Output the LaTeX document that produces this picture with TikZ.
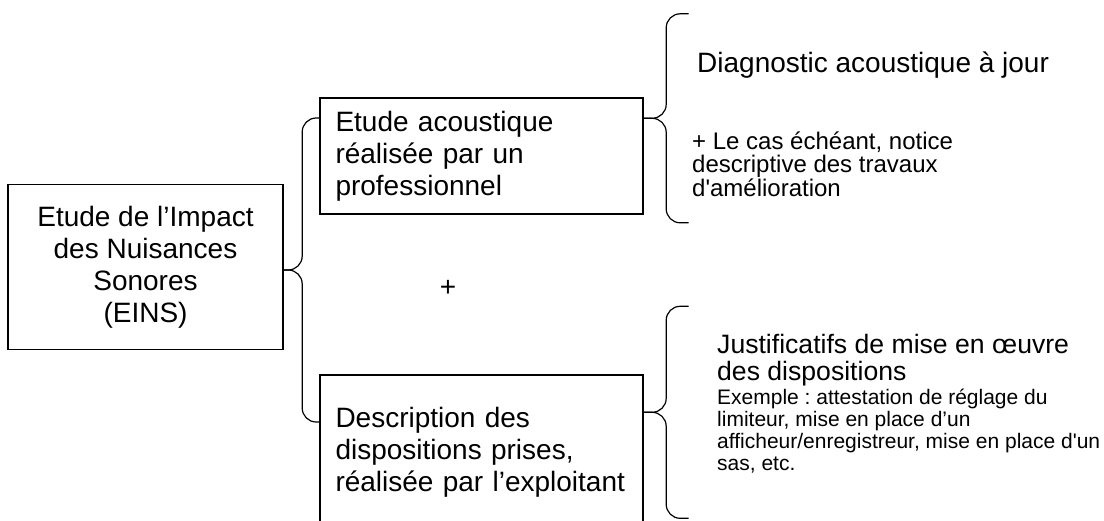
\documentclass[tikz,border=0pt]{standalone}
\usepackage{fontspec}
\setmainfont{Liberation Sans}
\usepackage{tikz}
\usetikzlibrary{positioning}
\usetikzlibrary{calc}
\frenchspacing

% accolade ouverte vers la droite : pointe, demi-hauteur, largeur
\newcommand{\accolade}[3]{%
  \draw[brace] (#1) -| ($(#1)+(#3/2,-#2)$) -- ++(#3/2,0);
  \draw[brace] (#1) -| ($(#1)+(#3/2,#2)$) -- ++(#3/2,0);}

\begin{document}
\begin{tikzpicture}[x=1pt, y=-1pt,
    box/.style={draw, line width=1.4pt, inner sep=0pt,
      font=\fontsize{28}{32}\selectfont},
    brace/.style={line width=1.2pt, rounded corners=14pt},
    big/.style={inner sep=0pt, font=\fontsize{28}{32}\selectfont},
    small/.style={inner sep=0pt, align=left}]

  \useasboundingbox (0,0) rectangle (1104,520);
  \clip (0,0) rectangle (1104,520);

  \node[box, minimum width=275pt, minimum height=165pt, align=center]
    (eins) at (145.5,267) {Etude de l’Impact\\des Nuisances\\Sonores\\(EINS)};
  \node[box, minimum width=323pt, minimum height=116pt, align=left,
    text width=292pt] (etude) at (481.5,156)
    {Etude acoustique\\réalisée par un\\professionnel};
  \node[box, minimum width=323pt, minimum height=154pt, align=left,
    text width=292pt] (descr) at (481.5,452)
    {Description des\\dispositions prises,\\réalisée par l’exploitant};
  \node[big] (plus) at (448,288) {+};

  % base = ligne du bas pour les textes sur plusieurs lignes
  \node[big, anchor=base west] (diag) at (697,72) {Diagnostic acoustique à jour};
  \node[small, font=\fontsize{24}{23.5}\selectfont, anchor=base west]
    (cas) at (692,196)
    {+ Le cas échéant, notice\\descriptive des travaux\\d\textquotesingle amélioration};
  \node[small, font=\fontsize{26.6}{27}\selectfont, anchor=base west]
    (justif) at (717,380) {Justificatifs de mise en œuvre\\des dispositions};
  \node[small, font=\fontsize{21}{21.7}\selectfont, anchor=base west]
    (exemple) at (717,470)
    {Exemple : attestation de réglage du\\limiteur, mise en place d’un\\afficheur/enregistreur, mise en place d\textquotesingle un\\sas, etc.};

  \coordinate (t0) at ($(eins.east)+(0,3)$);
  \coordinate (t1) at ($(etude.north east)+(0,21)$);
  \coordinate (t2) at ($(descr.north east)+(0,38)$);
  \accolade{t0}{152}{37}
  \accolade{t1}{104.5}{45}
  \accolade{t2}{106}{45}
\end{tikzpicture}
\end{document}
